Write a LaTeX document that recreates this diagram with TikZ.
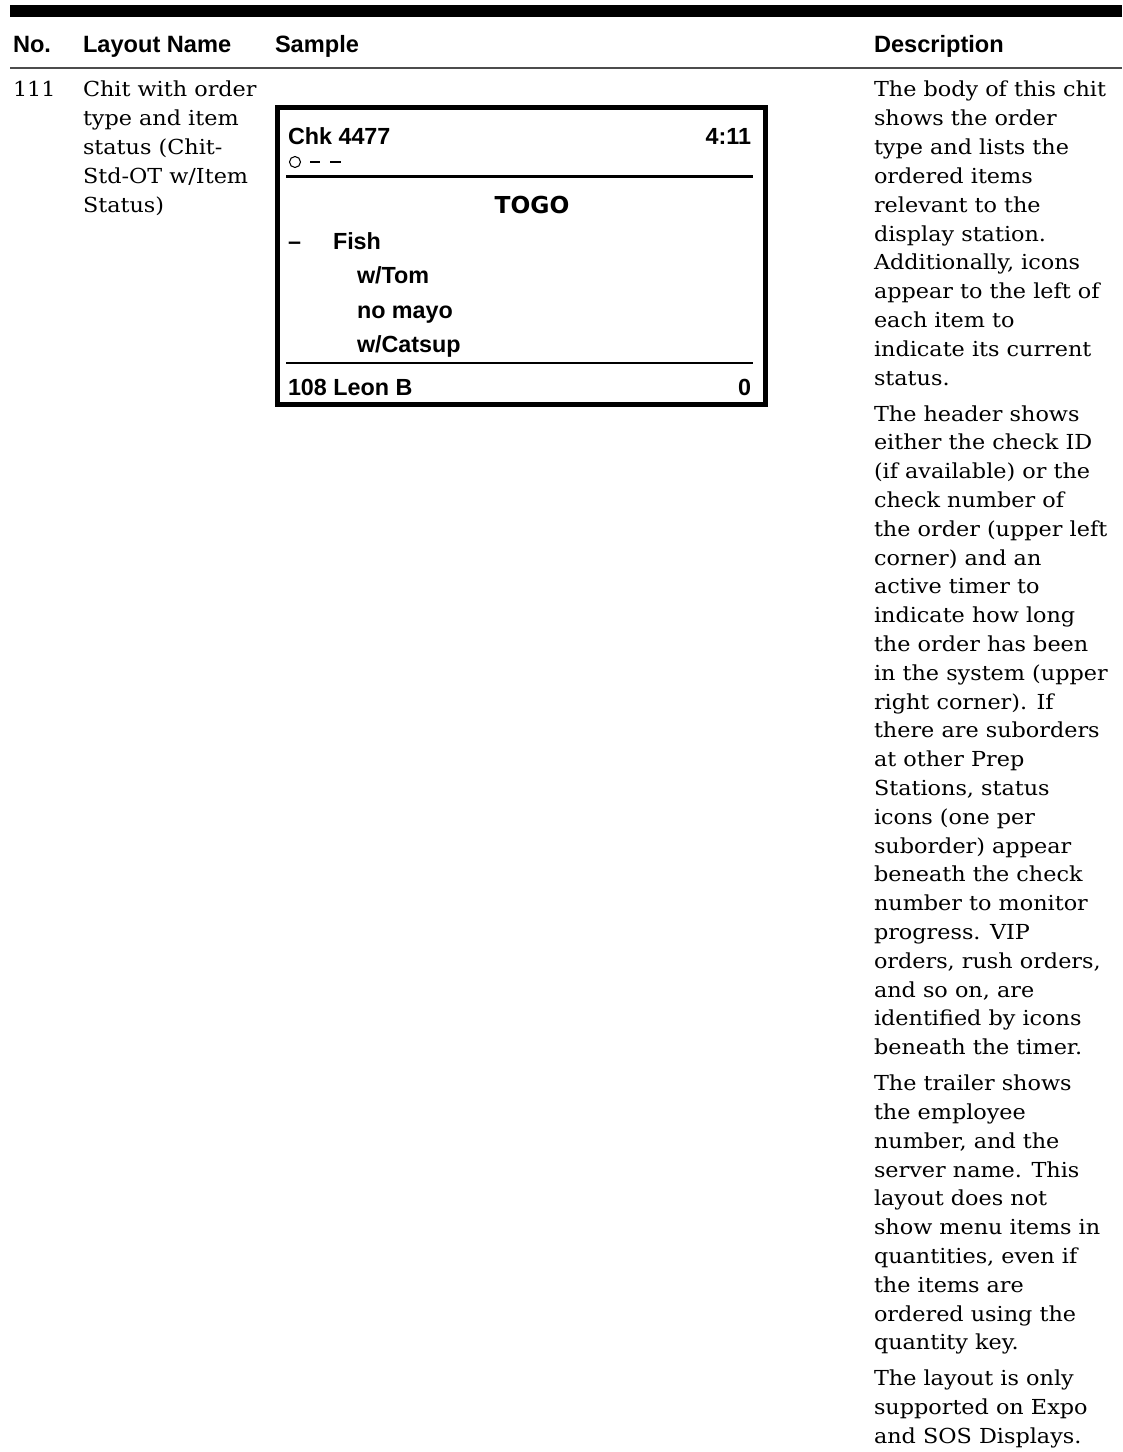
\documentclass[tikz,border=0pt]{standalone}
\usepackage{fontspec}
\usepackage{tikz}
\usetikzlibrary{positioning, calc}
\setmainfont{DejaVu Serif}[FakeStretch=1.08]
\newfontfamily\headfont{Liberation Sans}
\newfontfamily\chitfont{Liberation Sans}
\newfontfamily\togofont{DejaVu Sans}

\begin{document}
\begin{tikzpicture}[x=0.75pt, y=-0.75pt,
  every node/.style={inner sep=0pt, outer sep=0pt},
  colhead/.style={anchor=base west, font=\headfont\bfseries\fontsize{17.7pt}{21pt}\selectfont},
  body/.style={anchor=base west, font=\fontsize{15.5pt}{21.6pt}\selectfont},
  chit/.style={anchor=base west, font=\chitfont\bfseries\fontsize{17.5pt}{21pt}\selectfont},
  ]
  \useasboundingbox (0,0) rectangle (1122,1452);

  % table head
  \draw[line width=9pt] (10,11) -- (1122,11);
  \node[colhead] (hno) at (13,53) {No.};
  \node[colhead] (hname) at (83,53) {Layout Name};
  \node[colhead] (hsample) at (275,53) {Sample};
  \node[colhead] (hdesc) at (874,53) {Description};
  \draw[line width=1.1pt, gray!60!black] (10,68) -- (1122,68);

  % row 111
  \node[body] (no) at (13,97) {111};
  \foreach \txt [count=\i from 0] in {{Chit with order},{type and item},{status (Chit-},{Std-OT w/Item},{Status)}}
    \node[body] (name-\i) at (83, 97+28.8*\i) {\txt};

  % sample chit
  \draw[line width=3.75pt] (277.5,107.5) rectangle (765.5,404.5);
  \node[chit] (chk) at (288,145) {Chk 4477};
  \node[chit, anchor=base east] (timer) at (751,145) {4:11};
  \draw[line width=0.8pt] (295,162) circle (5.5);
  \draw[line width=0.9pt] (310,162) -- (320,162) (330,162) -- (341,162);
  \draw[line width=2.25pt] (286,177) -- (753,177);
  \node[anchor=base, font=\togofont\bfseries\fontsize{17.5pt}{21pt}\selectfont] (togo) at (532,214) {TOGO};
  \node[chit] (mark) at (288,249) {–};
  \node[chit] (fish) at (333,249) {Fish};
  \node[chit] (tom) at (357,283) {w/Tom};
  \node[chit] (mayo) at (357,318) {no mayo};
  \node[chit] (catsup) at (357,352) {w/Catsup};
  \draw[line width=1.2pt] (286,363) -- (753,363);
  \node[chit] (server) at (288,395) {108 Leon B};
  \node[chit, anchor=base east] (qty) at (751,395) {0};

  % description
  \foreach \txt [count=\i from 0] in {{The body of this chit},{shows the order},{type and lists the},{ordered items},{relevant to the},{display station.},{Additionally, icons},{appear to the left of},{each item to},{indicate its current},{status.}}
    \node[body] (da-\i) at (874, 97+28.8*\i) {\txt};
  \foreach \txt [count=\i from 0] in {{The header shows},{either the check ID},{(if available) or the},{check number of},{the order (upper left},{corner) and an},{active timer to},{indicate how long},{the order has been},{in the system (upper},{right corner). If},{there are suborders},{at other Prep},{Stations, status},{icons (one per},{suborder) appear},{beneath the check},{number to monitor},{progress. VIP},{orders, rush orders,},{and so on, are},{identified by icons},{beneath the timer.}}
    \node[body] (db-\i) at (874, 421+28.8*\i) {\txt};
  \foreach \txt [count=\i from 0] in {{The trailer shows},{the employee},{number, and the},{server name. This},{layout does not},{show menu items in},{quantities, even if},{the items are},{ordered using the},{quantity key.}}
    \node[body] (dc-\i) at (874, 1090.6+28.8*\i) {\txt};
  \foreach \txt [count=\i from 0] in {{The layout is only},{supported on Expo},{and SOS Displays.}}
    \node[body] (dd-\i) at (874, 1385.8+28.8*\i) {\txt};
\end{tikzpicture}
\end{document}
